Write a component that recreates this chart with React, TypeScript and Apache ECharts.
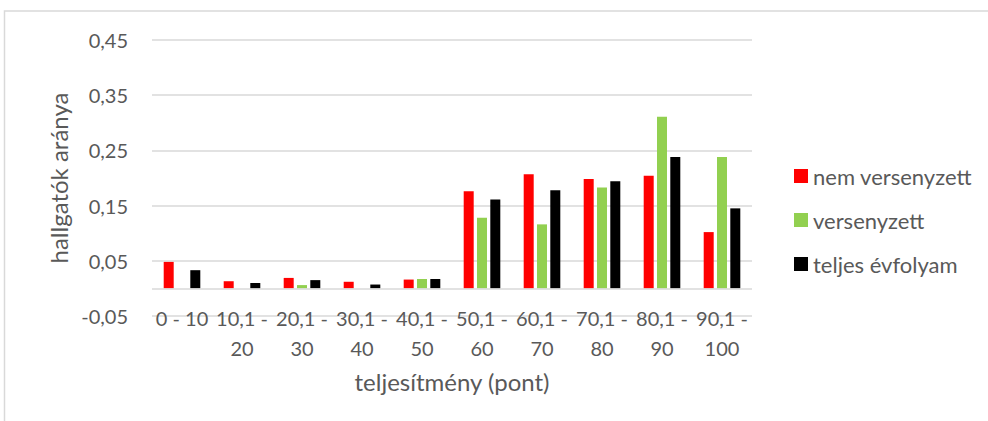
import React, { useEffect, useRef } from "react";
import * as echarts from "echarts";

const categories = [
  "0 - 10",
  "10,1 -\n20",
  "20,1 -\n30",
  "30,1 -\n40",
  "40,1 -\n50",
  "50,1 -\n60",
  "60,1 -\n70",
  "70,1 -\n80",
  "80,1 -\n90",
  "90,1 -\n100",
];
const nemVersenyzett = [0.048, 0.013, 0.019, 0.012, 0.016, 0.176, 0.207, 0.198, 0.204, 0.102];
const versenyzett = [0, 0, 0.006, 0, 0.017, 0.128, 0.116, 0.183, 0.311, 0.238];
const teljesEvfolyam = [0.033, 0.01, 0.015, 0.007, 0.017, 0.161, 0.178, 0.194, 0.238, 0.145];
const seriesNames = ["nem versenyzett", "versenyzett", "teljes évfolyam"];
const colors = ["#ff0000", "#92d050", "#000000"];

const FONT = "Lato, 'Noto Sans', sans-serif";
const TXT = "#595959";

export default function App() {
  const ref = useRef<HTMLDivElement>(null);
  useEffect(() => {
    document.body.style.margin = "0";
    const chart = echarts.init(ref.current!, null, { renderer: "svg" });
    const dataSets = [nemVersenyzett, versenyzett, teljesEvfolyam];
    chart.setOption({
      animation: false,
      backgroundColor: "#ffffff",
      textStyle: { fontFamily: FONT, color: TXT },
      graphic: [
        {
          type: "rect",
          shape: { x: 4.5, y: 11, width: 1100, height: 600 },
          style: { fill: "none", stroke: "#d9d9d9", lineWidth: 1.5 },
          silent: true,
        },
      ],
      grid: { left: 152, right: 236, top: 40, bottom: 105 },
      legend: {
        orient: "vertical",
        left: 794,
        top: 165,
        padding: 0,
        itemWidth: 14,
        itemHeight: 14,
        itemGap: 22,
        icon: "rect",
        textStyle: { fontFamily: FONT, fontSize: 22, color: TXT, lineHeight: 22 },
        data: seriesNames,
      },
      xAxis: {
        type: "category",
        data: categories,
        axisLine: { show: false },
        axisTick: { show: false },
        splitLine: { show: false },
        axisLabel: {
          interval: 0,
          margin: -13,
          fontFamily: FONT,
          fontSize: 20,
          color: TXT,
          lineHeight: 30,
        },
        name: "teljesítmény (pont)",
        nameLocation: "middle",
        nameGap: 53,
        nameTextStyle: { fontFamily: FONT, fontSize: 24, color: TXT },
      },
      yAxis: {
        type: "value",
        min: -0.05,
        max: 0.45,
        interval: 0.1,
        axisLine: { show: false },
        axisTick: { show: false },
        splitLine: { show: true, lineStyle: { color: "#d9d9d9", width: 1.5 } },
        axisLabel: {
          margin: 24,
          fontFamily: FONT,
          fontSize: 20,
          color: TXT,
          formatter: (v: number) => v.toFixed(2).replace(".", ","),
        },
        name: "hallgatók aránya",
        nameLocation: "middle",
        nameGap: 81,
        nameRotate: 90,
        nameTextStyle: { fontFamily: FONT, fontSize: 24, color: TXT },
      },
      series: dataSets.map((d, i) => ({
        name: seriesNames[i],
        type: "bar",
        data: d,
        barWidth: 10,
        barGap: "33%",
        itemStyle: { color: colors[i] },
        ...(i === 0
          ? {
              markLine: {
                silent: true,
                symbol: ["none", "none"],
                label: { show: false },
                lineStyle: { color: "#d9d9d9", type: "solid", width: 1.5 },
                data: [{ yAxis: 0 }],
              },
            }
          : {}),
      })),
    });
    return () => chart.dispose();
  }, []);
  return <div ref={ref} style={{ width: 988, height: 421 }} />;
}
